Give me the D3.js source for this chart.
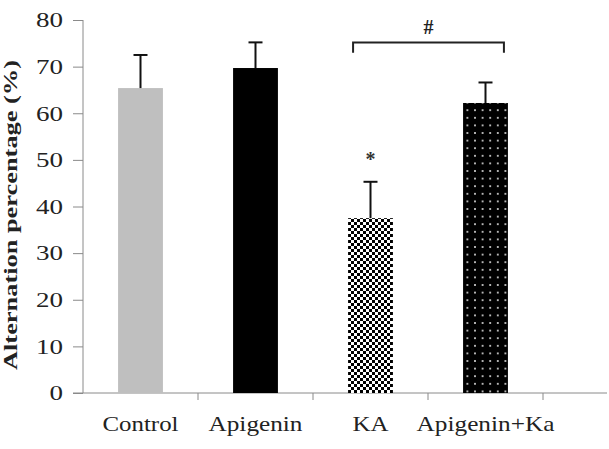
<!DOCTYPE html>
<html>
<head>
<meta charset="utf-8">
<script src="https://cdn.jsdelivr.net/npm/d3@7"></script>
<style>
    body { margin: 0; background: #fff; }
    text { font-family: "Liberation Serif", "Times New Roman", serif; }
</style>
</head>
<body>
<svg id="chart" width="609" height="449"></svg>
<script>
// values
var categories = ["Control", "Apigenin", "KA", "Apigenin+Ka"];
var means = [65.4, 69.7, 37.5, 62.2];
var errors = [7.1, 5.5, 7.8, 4.4];
var yTicks = [0, 10, 20, 30, 40, 50, 60, 70, 80];
var fills = ["#bfbfbf", "#000", "url(#checker)", "url(#dots)"];
// label widths in the picture are wider than the font gives
var labelWidths = [76, 94, 36, 138];

var svg = d3.select("#chart");
var axisColor = "#8a8a8a";

var x = d3.scaleBand()
    .domain(categories)
    .range([83, 543])
    .paddingInner(0.61)
    .paddingOuter(0.305);

var y = d3.scaleLinear()
    .domain([0, 80])
    .range([393, 20]);

// patterns
var defs = svg.append("defs");
var checker = defs.append("pattern")
    .attr("id", "checker")
    .attr("patternUnits", "userSpaceOnUse")
    .attr("width", 6).attr("height", 6);
checker.append("rect").attr("width", 6).attr("height", 6).attr("fill", "#fff");
checker.append("rect").attr("width", 3).attr("height", 3).attr("fill", "#000");
checker.append("rect").attr("x", 3).attr("y", 3).attr("width", 3).attr("height", 3).attr("fill", "#000");

var dots = defs.append("pattern")
    .attr("id", "dots")
    .attr("patternUnits", "userSpaceOnUse")
    .attr("width", 7.6).attr("height", 7.6);
dots.append("rect").attr("width", 7.6).attr("height", 7.6).attr("fill", "#000");
dots.append("rect").attr("x", 3).attr("y", 3).attr("width", 1.6).attr("height", 1.6).attr("fill", "#fff");

// y axis
var yAxis = svg.append("g")
    .attr("transform", "translate(83,0)")
    .call(d3.axisLeft(y).tickValues(yTicks).tickSize(10).tickFormat(d3.format("d")));
yAxis.select(".domain").attr("stroke", axisColor).attr("d", "M0," + y(80) + "V" + y(0));
yAxis.selectAll(".tick line").attr("stroke", axisColor);
yAxis.selectAll(".tick text")
    .attr("x", -20)
    .attr("dy", "0.34em")
    .attr("fill", "#222")
    .style("font-size", "20px")
    .attr("textLength", function(d) { return String(d).length * 13.5; })
    .attr("lengthAdjust", "spacingAndGlyphs");

// x axis line and category separators
svg.append("line")
    .attr("x1", 73).attr("x2", 607)
    .attr("y1", y(0)).attr("y2", y(0))
    .attr("stroke", axisColor);

svg.selectAll(".sep")
    .data(categories)
    .enter().append("line")
    .attr("class", "sep")
    .attr("x1", function(d) { return x(d) + x.bandwidth() + (x.step() - x.bandwidth()) / 2; })
    .attr("x2", function(d) { return x(d) + x.bandwidth() + (x.step() - x.bandwidth()) / 2; })
    .attr("y1", y(0)).attr("y2", y(0) + 7)
    .attr("stroke", axisColor);

// bars
svg.selectAll(".bar")
    .data(categories)
    .enter().append("rect")
    .attr("class", "bar")
    .attr("x", function(d) { return x(d); })
    .attr("width", x.bandwidth())
    .attr("y", function(d, i) { return y(means[i]); })
    .attr("height", function(d, i) { return y(0) - y(means[i]); })
    .attr("fill", function(d, i) { return fills[i]; });

// error bars (upper only)
var cx = function(d) { return x(d) + x.bandwidth() / 2; };
svg.selectAll(".err")
    .data(categories)
    .enter().append("line")
    .attr("class", "err")
    .attr("x1", cx).attr("x2", cx)
    .attr("y1", function(d, i) { return y(means[i]); })
    .attr("y2", function(d, i) { return y(means[i] + errors[i]); })
    .attr("stroke", "#111").attr("stroke-width", 2);
svg.selectAll(".cap")
    .data(categories)
    .enter().append("line")
    .attr("class", "cap")
    .attr("x1", function(d) { return cx(d) - 7; })
    .attr("x2", function(d) { return cx(d) + 7; })
    .attr("y1", function(d, i) { return y(means[i] + errors[i]); })
    .attr("y2", function(d, i) { return y(means[i] + errors[i]); })
    .attr("stroke", "#111").attr("stroke-width", 2);

// x labels
svg.selectAll(".xlab")
    .data(categories)
    .enter().append("text")
    .attr("class", "xlab")
    .attr("x", cx)
    .attr("y", 431)
    .attr("text-anchor", "middle")
    .attr("fill", "#222")
    .style("font-size", "22px")
    .attr("textLength", function(d, i) { return labelWidths[i]; })
    .attr("lengthAdjust", "spacingAndGlyphs")
    .text(function(d) { return d; });

// significance marks
svg.append("text")
    .attr("x", cx("KA"))
    .attr("y", 166)
    .attr("text-anchor", "middle")
    .style("font-size", "20px")
    .style("font-weight", "bold")
    .attr("fill", "#333")
    .text("*");

var bx1 = x("KA") + 5, bx2 = x("Apigenin+Ka") + x.bandwidth() - 4;
svg.append("path")
    .attr("d", "M" + bx1 + "," + y(73) + "V" + y(75.2) + "H" + bx2 + "V" + y(73))
    .attr("fill", "none")
    .attr("stroke", "#222")
    .attr("stroke-width", 2);
svg.append("text")
    .attr("x", (bx1 + bx2) / 2)
    .attr("y", 34)
    .attr("text-anchor", "middle")
    .style("font-size", "20px")
    .style("font-weight", "bold")
    .attr("fill", "#222")
    .text("#");

// y axis title
svg.append("text")
    .attr("transform", "translate(17,215) rotate(-90)")
    .attr("text-anchor", "middle")
    .style("font-size", "18px")
    .style("font-weight", "bold")
    .attr("fill", "#222")
    .attr("textLength", 310)
    .attr("lengthAdjust", "spacingAndGlyphs")
    .text("Alternation percentage (%)");
</script>
</body>
</html>
